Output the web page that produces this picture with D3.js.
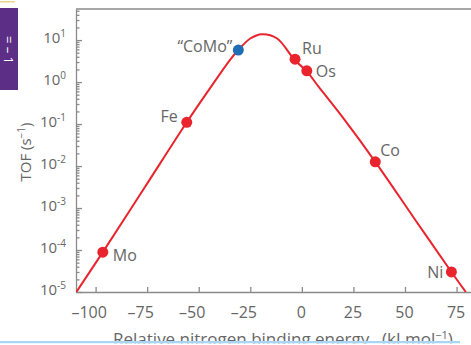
<!DOCTYPE html>
<html>
<head>
<meta charset="utf-8">
<script src="https://cdn.jsdelivr.net/npm/d3@7"></script>
<style>
  body { margin: 0; background: #fff; }
  svg text { font-family: "Open Sans", "Noto Sans", sans-serif; fill: #666; }
  .axis path, .axis line { stroke: #8a8a8a; stroke-width: 1.3; }
</style>
</head>
<body>
<svg id="chart" width="471" height="345"></svg>
<script>
// volcano curve
var curveEnergy = [-110, -96.5, -76, -55.8, -45, -35, -30.8, -25, -19.4, -12, -3.6, 2.4, 8, 20, 35.6, 55, 72.5, 79.5];
var curveTOF = [8.9e-6, 8.9e-5, 3.2e-3, 0.11, 0.66, 3.3, 5.8, 10.9, 13.8, 10.9, 3.4, 1.8, 0.79, 0.14, 0.0126, 5.2e-4, 3.0e-5, 1.0e-5];

// metals
var metals = ['Mo', 'Fe', '"CoMo"', 'Ru', 'Os', 'Co', 'Ni'];
var metalEnergy = [-96.5, -55.8, -30.8, -3.3, 2.4, 35.6, 72.5];
var metalTOF = [8.9e-5, 0.11, 5.8, 3.5, 1.85, 0.0126, 3.0e-5];
var metalColor = ['red', 'red', 'blue', 'red', 'red', 'red', 'red'];

var xTicks = [-100, -75, -50, -25, 0, 25, 50, 75];
var yTicks = [1e-5, 1e-4, 1e-3, 1e-2, 1e-1, 1e0, 1e1];
var yTickLabels = ['-5', '-4', '-3', '-2', '-1', '0', '1'];

var svg = d3.select('#chart');

// GLOBAL VARIABLES (plotTop, not top -- window.top is taken)
var plotLeft = 76, plotRight = 471, plotTop = 9, plotBottom = 292;
var colors = { red: '#e9242d', blue: '#1f6db4' };

var x = d3.scaleLinear().domain([-109.5, 82]).range([plotLeft, plotRight]);
var y = d3.scaleLog().domain([1e-5, 55]).range([plotBottom, plotTop]);

// little purple tab on the left edge
svg.append('rect').attr('x', 0).attr('y', 1).attr('width', 15).attr('height', 1.5).attr('fill', '#e8d98a');
svg.append('rect').attr('x', 0).attr('y', 8).attr('width', 18).attr('height', 82).attr('fill', '#5d2e85');
svg.append('text')
    .attr('transform', 'translate(4,50) rotate(90)')
    .attr('text-anchor', 'middle')
    .style('fill', '#fff')
    .style('font-size', '13px')
    .text('= –  1');

// minor y ticks
var minor = [];
for (var e = -5; e <= 1; e++) {
    for (var m = 2; m <= 9; m++) {
        var v = m * Math.pow(10, e);
        if (v <= 55) minor.push(v);
    }
}
svg.append('g')
    .attr('class', 'axis')
    .attr('transform', 'translate(' + plotLeft + ',0)')
    .call(d3.axisLeft(y).tickValues(minor).tickSize(-3.5).tickFormat(''))
    .select('.domain').remove();

// major y ticks + line
var yAxis = svg.append('g')
    .attr('class', 'axis')
    .attr('transform', 'translate(' + plotLeft + ',0)')
    .call(d3.axisLeft(y).tickValues(yTicks).tickSizeInner(-6).tickSizeOuter(0).tickFormat(''));

yAxis.selectAll('.tick').each(function(d, i) {
    var t = d3.select(this).append('text')
        .attr('x', -10)
        .attr('y', 2)
        .attr('text-anchor', 'end')
        .style('font-size', '15px');
    t.append('tspan').text('10');
    t.append('tspan').attr('dy', -6).style('font-size', '10px').text(yTickLabels[i]);
});

// x axis
var xAxis = svg.append('g')
    .attr('class', 'axis')
    .attr('transform', 'translate(0,' + plotBottom + ')')
    .call(d3.axisBottom(x).tickValues(xTicks).tickSizeInner(-5).tickSizeOuter(0).tickFormat(''));

xAxis.selectAll('.tick').append('text')
    .attr('y', 26)
    .attr('x', function(d) { return d < 0 ? -7 : -1; })
    .attr('text-anchor', 'middle')
    .style('font-size', '16px')
    .text(function(d) { return d < 0 ? '\u2013' + Math.abs(d) : d; });

// top frame line
svg.append('line')
    .attr('x1', plotLeft).attr('x2', plotRight)
    .attr('y1', plotTop).attr('y2', plotTop)
    .attr('stroke', '#8a8a8a').attr('stroke-width', 1.3);

// axis titles
svg.append('text')
    .attr('transform', 'translate(31,152) rotate(-90)')
    .attr('text-anchor', 'middle')
    .style('font-size', '15px')
    .html('TOF (s<tspan dy="-6" font-size="10px">−1</tspan><tspan dy="6">)</tspan>');

svg.append('text')
    .attr('x', 113).attr('y', 345)
    .style('font-size', '17px')
    .text('Relative nitrogen binding energy');
svg.append('text')
    .attr('x', 382).attr('y', 345)
    .style('font-size', '17px')
    .html('(kJ mol<tspan dy="-6" font-size="11px">−1</tspan><tspan dy="6">)</tspan>');

// curve
svg.append('clipPath').attr('id', 'plot')
    .append('rect').attr('x', plotLeft).attr('y', plotTop).attr('width', plotRight - plotLeft).attr('height', plotBottom - plotTop);

var line = d3.line()
    .x(function(d, i) { return x(curveEnergy[i]); })
    .y(function(d, i) { return y(curveTOF[i]); })
    .curve(d3.curveCatmullRom.alpha(0.5));

svg.append('path')
    .attr('clip-path', 'url(#plot)')
    .attr('d', line(curveEnergy))
    .attr('fill', 'none')
    .attr('stroke', colors.red)
    .attr('stroke-width', 2);

// dots
svg.selectAll('.dot')
    .data(metals)
    .enter().append('circle')
    .attr('class', 'dot')
    .attr('cx', function(d, i) { return x(metalEnergy[i]); })
    .attr('cy', function(d, i) { return y(metalTOF[i]); })
    .attr('r', 5.5)
    .attr('fill', function(d, i) { return colors[metalColor[i]]; });

// labels next to the dots
var labelDx = [10, -9, -6, 7, 9, 5, -8];
var labelDy = [9, 0, 2, -5, 6, -6, 6];
var labelAnchor = ['start', 'end', 'end', 'start', 'start', 'start', 'end'];
svg.selectAll('.lab')
    .data(metals)
    .enter().append('text')
    .attr('class', 'lab')
    .attr('x', function(d, i) { return x(metalEnergy[i]) + labelDx[i]; })
    .attr('y', function(d, i) { return y(metalTOF[i]) + labelDy[i]; })
    .attr('text-anchor', function(d, i) { return labelAnchor[i]; })
    .style('font-size', '16px')
    .text(function(d) { return d.replace(/"(.*)"/, '\u201C$1\u201D'); });

// light blue rule cutting the bottom
svg.append('rect').attr('x', 0).attr('y', 341).attr('width', 460).attr('height', 2.5).attr('fill', '#a9d6f5');
svg.append('rect').attr('x', 0).attr('y', 343.5).attr('width', 471).attr('height', 2).attr('fill', '#fff');
</script>
</body>
</html>
